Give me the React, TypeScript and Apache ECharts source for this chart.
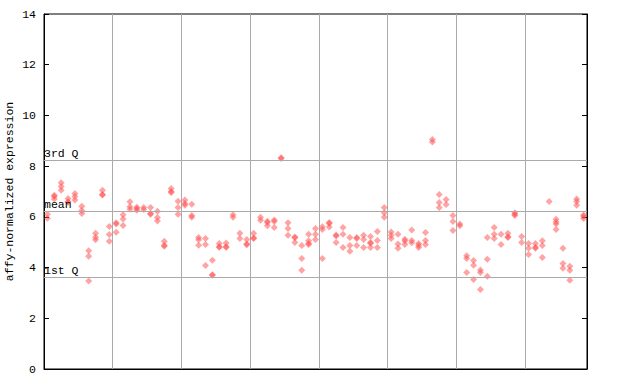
import React, { useEffect, useRef } from "react";
import * as echarts from "echarts";

// Expression values per sample column (replicates stacked in each column)
const sampleValues: number[][] = [
  [6.1, 5.95], [6.85, 6.8, 6.7], [7.35, 7.2, 7.05], [6.72, 6.6, 6.58], [6.92, 6.8, 6.66],
  [6.42, 6.25, 6.13], [4.66, 4.45, 3.47], [5.35, 5.2, 5.1], [7.05, 6.88, 6.86], [5.62, 5.3, 5.04],
  [5.77, 5.72, 5.39], [6.08, 5.92, 5.66], [6.6, 6.4, 6.3], [6.38, 6.33, 6.26], [6.37, 6.29],
  [6.37, 6.13, 6.1], [6.22, 5.97, 5.84], [5.04, 4.88, 4.84], [7.12, 7.0, 6.96], [6.62, 6.37, 6.1],
  [6.66, 6.53, 6.46], [6.5, 6.05, 5.98], [5.19, 5.1, 4.88], [5.15, 4.91, 4.08], [4.29, 3.72, 3.7],
  [4.95, 4.82, 4.8], [4.97, 4.82, 4.8], [6.08, 5.98], [5.35, 5.15], [5.11, 4.93, 4.9],
  [5.35, 5.17, 5.15], [5.98, 5.87], [5.83, 5.78, 5.65], [5.88, 5.82, 5.58], [8.33, 8.3],
  [5.77, 5.54, 5.27], [5.21, 5.18, 4.99], [4.87, 4.36, 3.89], [5.31, 5.06, 4.95, 4.91], [5.54, 5.31, 5.11],
  [5.61, 5.5, 4.36], [5.78, 5.74, 5.6], [5.28, 5.25, 4.99], [5.58, 5.31, 4.79], [5.19, 4.87, 4.64],
  [5.19, 5.15, 4.87], [5.27, 5.11, 4.79], [5.23, 4.99, 4.96, 4.79], [5.42, 5.07, 4.79], [6.37, 6.16, 5.98],
  [5.4, 5.27, 5.15], [5.31, 4.93, 4.76], [5.12, 5.05, 4.91], [5.48, 5.07, 4.98], [4.95, 4.87, 4.79],
  [5.38, 5.07, 4.91], [9.05, 8.95], [6.88, 6.57, 6.37], [6.68, 6.49], [6.05, 5.82, 5.46],
  [5.72, 5.65], [4.47, 4.36, 3.81], [4.28, 4.09, 3.53], [3.9, 3.81, 3.14], [5.19, 4.33, 3.66],
  [5.58, 5.31, 5.15], [5.31, 4.91], [5.35, 5.22, 5.19], [6.16, 6.1, 6.05], [5.23, 4.99],
  [4.95, 4.76, 4.52], [4.95, 4.8, 4.76], [5.06, 4.87, 4.4], [6.61], [5.91, 5.8, 5.72, 5.5],
  [4.76, 4.16, 3.97], [4.05, 3.89, 3.5], [6.7, 6.61, 6.46], [6.07, 6.02, 5.94],
];

const groupSize = 10;
const quartileNames = ["3rd Q", "mean", "1st Q"];
const quartileValues = [8.22, 6.225, 3.61];
const yTicks = { min: 0, max: 14, interval: 2 };
const yAxisTitle = "affy-normalized expression";

const FONT = "'Liberation Mono', 'DejaVu Sans Mono', monospace";

export default function App() {
  const ref = useRef<HTMLDivElement>(null);
  useEffect(() => {
    if (!ref.current) return;
    const chart = echarts.init(ref.current, undefined, { renderer: "svg" });
    const points: number[][] = [];
    sampleValues.forEach((col, i) => col.forEach((v) => points.push([i + 0.5, v])));
    const nCols = sampleValues.length;
    chart.setOption({
      animation: false,
      grid: {
        left: 44, right: 53, top: 14, bottom: 15, show: true, borderColor: "#000", borderWidth: 1,
        backgroundColor: "transparent", containLabel: false, outerBoundsMode: "none",
      },
      xAxis: {
        type: "value", min: 0, max: nCols, interval: groupSize,
        axisLine: { show: true, lineStyle: { color: "#000" } },
        axisTick: { show: false }, axisLabel: { show: false },
        splitLine: { show: true, lineStyle: { color: "#aaaaaa", width: 1 } },
      },
      yAxis: [
        {
          type: "value", min: yTicks.min, max: yTicks.max, interval: yTicks.interval,
          name: yAxisTitle, nameLocation: "middle", nameRotate: 90, nameGap: 29,
          nameMoveOverlap: false,
          nameTextStyle: { fontFamily: FONT, fontSize: 11.5, color: "#000" },
          axisLine: { show: true, lineStyle: { color: "#000" } },
          axisTick: { show: true, inside: true, length: 5, lineStyle: { color: "#000" } },
          axisLabel: { fontFamily: FONT, fontSize: 11.5, color: "#000", margin: 8 },
          splitLine: { show: false },
        },
        {
          type: "value", position: "right", min: yTicks.min, max: yTicks.max, interval: yTicks.interval,
          axisLine: { show: true, lineStyle: { color: "#000" } },
          axisTick: { show: true, inside: true, length: 5, lineStyle: { color: "#000" } },
          axisLabel: { show: false }, splitLine: { show: false },
        },
      ],
      series: [
        {
          type: "scatter",
          data: points,
          symbol: "diamond",
          symbolSize: [7, 7],
          itemStyle: { color: "#ff4a4a", opacity: 0.5 },
          markLine: {
            silent: true, symbol: "none",
            lineStyle: { color: "#aaaaaa", type: "solid", width: 1 },
            label: {
              show: true, position: "insideStartTop", distance: [0, 1],
              fontFamily: FONT, fontSize: 11.5, color: "#000",
              formatter: (p: any) => p.name,
            },
            data: quartileNames.map((n, i) => ({ name: n, yAxis: quartileValues[i] })),
          },
          z: 3,
        },
      ],
    });
    return () => chart.dispose();
  }, []);
  return <div ref={ref} style={{ position: "fixed", left: 0, top: 0, width: 640, height: 384, background: "#fff" }} />;
}
